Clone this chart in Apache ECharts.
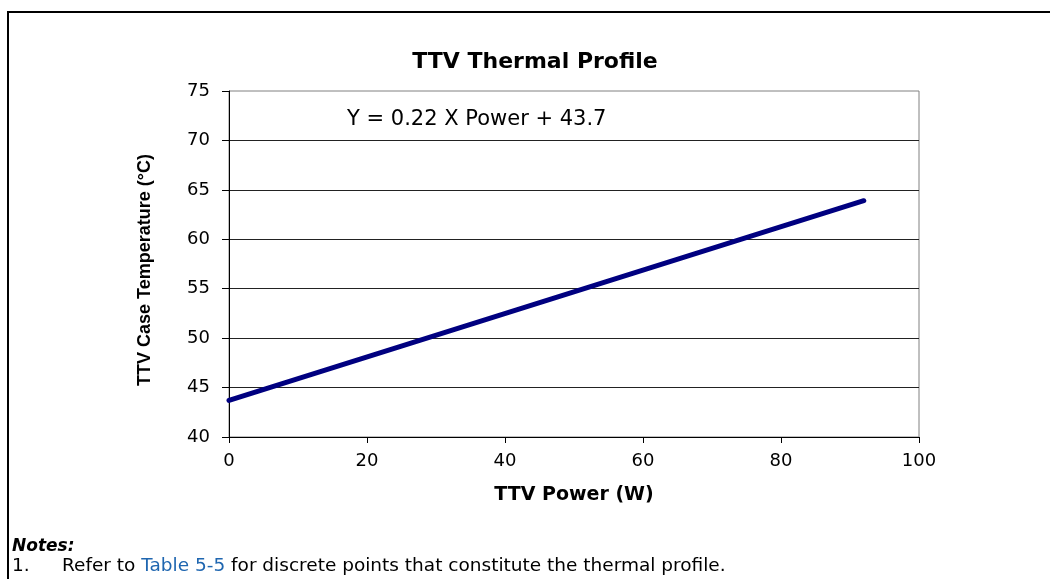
<!DOCTYPE html>
<html>
<head>
<meta charset="utf-8">
<title>TTV Thermal Profile</title>
<script src="https://cdn.jsdelivr.net/npm/echarts@6/dist/echarts.min.js"></script>
<style>
  html, body { margin: 0; padding: 0; background: #fff; }
  #chart { width: 1050px; height: 579px; }
</style>
</head>
<body>
<div id="chart"></div>
<script>
// power (W) and case temperature (C) at the ends of the profile line
const power = [0, 92]
const caseTemp = [43.7, 63.9]
const yTicks = [40, 45, 50, 55, 60, 65, 70, 75]
const xTicks = [0, 20, 40, 60, 80, 100]

const chart = echarts.init(document.getElementById('chart'))

chart.setOption({
  animation: false,
  backgroundColor: '#fff',
  title: {
    text: 'TTV Thermal Profile',
    left: 530,
    top: 46,
    textAlign: 'center',
    textStyle: {
      fontFamily: 'DejaVu Sans',
      fontWeight: 'bold',
      fontSize: 22,
      color: '#000'
    }
  },
  grid: {
    left: 229,
    right: 131,
    top: 91,
    bottom: 142,
    show: true,
    borderColor: '#808080',
    borderWidth: 1
  },
  xAxis: {
    type: 'value',
    min: xTicks[0],
    max: xTicks[xTicks.length - 1],
    interval: 20,
    name: 'TTV Power (W)',
    nameLocation: 'middle',
    nameGap: 49,
    nameTextStyle: {
      fontFamily: 'DejaVu Sans',
      fontWeight: 'bold',
      fontSize: 19,
      color: '#000'
    },
    axisLine: { lineStyle: { color: '#000', width: 1 } },
    axisTick: { show: true, length: 6, lineStyle: { color: '#000' } },
    axisLabel: {
      margin: 15,
      fontFamily: 'DejaVu Sans',
      fontSize: 18,
      color: '#000'
    },
    splitLine: { show: false }
  },
  yAxis: {
    type: 'value',
    min: yTicks[0],
    max: yTicks[yTicks.length - 1],
    interval: 5,
    name: 'TTV Case Temperature (°C)',
    nameLocation: 'middle',
    nameGap: 75,
    nameTextStyle: {
      fontFamily: 'Liberation Sans',
      fontWeight: 'bold',
      fontSize: 18,
      color: '#000',
      padding: [0, 12, 0, 0]
    },
    axisLine: { show: true, lineStyle: { color: '#000', width: 1 } },
    axisTick: { show: true, length: 7, lineStyle: { color: '#000' } },
    axisLabel: {
      margin: 19,
      fontFamily: 'DejaVu Sans',
      fontSize: 18,
      color: '#000'
    },
    splitLine: { show: true, showMaxLine: false, lineStyle: { color: '#222', width: 1 } }
  },
  series: [
    {
      type: 'line',
      data: power.map((p, i) => [p, caseTemp[i]]),
      symbol: 'none',
      lineStyle: { color: '#000080', width: 5, cap: 'round' }
    }
  ],
  graphic: [
    // outer frame (top and left edges)
    {
      type: 'polyline',
      shape: { points: [[8, 579], [8, 12], [1050, 12]] },
      style: { stroke: '#000', lineWidth: 2, fill: null }
    },
    {
      type: 'text',
      left: 347,
      top: 109,
      style: {
        text: 'Y = 0.22 X Power + 43.7',
        fontFamily: 'DejaVu Sans',
        fontSize: 21,
        fill: '#000'
      }
    },
    {
      type: 'text',
      left: 12,
      top: 538,
      style: {
        text: 'Notes:',
        fontFamily: 'DejaVu Sans',
        fontWeight: 'bold',
        fontStyle: 'italic',
        fontSize: 17,
        fill: '#000'
      }
    },
    {
      type: 'text',
      left: 12,
      top: 557,
      style: {
        text: '1.',
        fontFamily: 'DejaVu Sans',
        fontSize: 18.5,
        fill: '#000'
      }
    },
    {
      type: 'text',
      left: 62,
      top: 557,
      style: {
        text: '{a|Refer to }{b|Table 5-5}{a| for discrete points that constitute the thermal profile.}',
        rich: {
          a: { fontFamily: 'DejaVu Sans', fontSize: 18.5, fill: '#000', color: '#000' },
          b: { fontFamily: 'DejaVu Sans', fontSize: 18.5, fill: '#1f66b0', color: '#1f66b0' }
        }
      }
    }
  ]
})
</script>
</body>
</html>
